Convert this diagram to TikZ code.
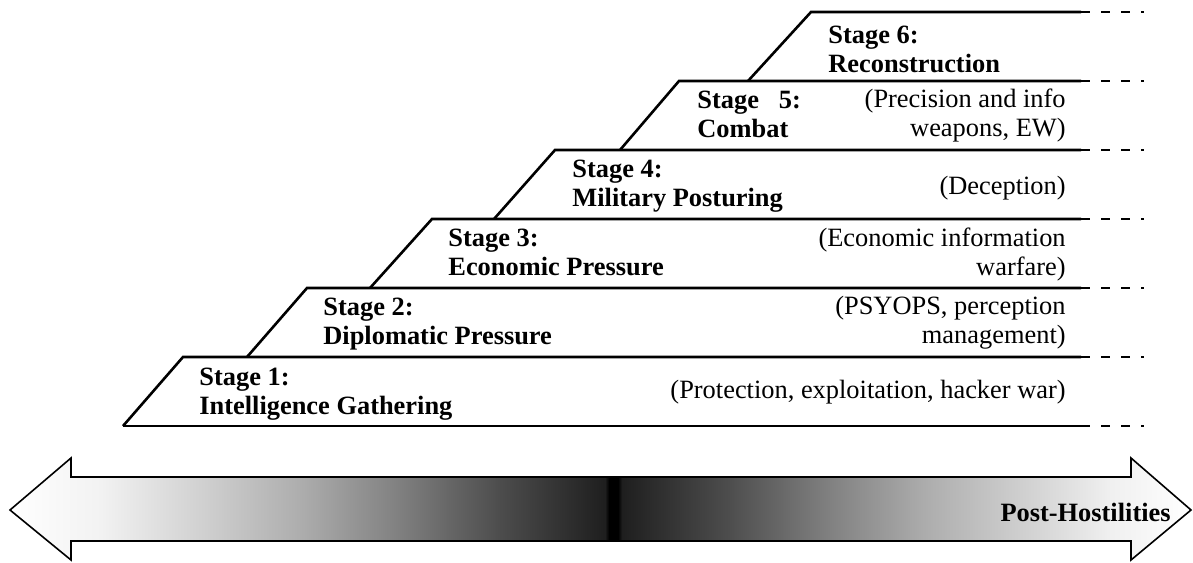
\documentclass[tikz,border=0pt]{standalone}
\usepackage{fontspec}
\setmainfont{Liberation Serif}
\usetikzlibrary{positioning}

% white -- black -- white along the timeline (25bp = left tip, 75bp = right tip)
\pgfdeclarehorizontalshading{timeline}{100bp}{color(0bp)=(white); color(25bp)=(white);
  color(28.81bp)=(black!5); color(33.04bp)=(black!18); color(37.28bp)=(black!32);
  color(41.51bp)=(black!50); color(45.74bp)=(black!70); color(50.19bp)=(black!88);
  color(50.36bp)=(black); color(50.74bp)=(black); color(50.91bp)=(black!88);
  color(55.36bp)=(black!70); color(59.59bp)=(black!50); color(63.82bp)=(black!32);
  color(68.06bp)=(black!18); color(71.57bp)=(black!6); color(75bp)=(white);
  color(100bp)=(white)}

\begin{document}
\begin{tikzpicture}[x=0.5pt,y=-0.5pt,
  stair/.style={line width=1.3pt},
  tail/.style={line width=1.3pt,dash pattern=on 4.5pt off 5.5pt},
  stagelbl/.style={anchor=north west,align=left,inner sep=0pt,font=\fontsize{13.2}{14.5}\selectfont\bfseries},
  means/.style={anchor=east,align=right,inner sep=0pt,font=\fontsize{13.2}{14.5}\selectfont}]

  \useasboundingbox (0,0) rectangle (1193,562);

  % corners of the stairs
  \coordinate (a1) at (123,426);  \coordinate (c1) at (183,357);
  \coordinate (a2) at (247,357);  \coordinate (c2) at (307,288);
  \coordinate (a3) at (370,288);  \coordinate (c3) at (432,219);
  \coordinate (a4) at (494,219);  \coordinate (c4) at (555,150);
  \coordinate (a5) at (620,150);  \coordinate (c5) at (679,81);
  \coordinate (a6) at (748,81);   \coordinate (c6) at (811,12);

  \coordinate (e0) at (1081,426);
  \coordinate (e1) at (1081,357);
  \coordinate (e2) at (1081,288);
  \coordinate (e3) at (1081,219);
  \coordinate (e4) at (1081,150);
  \coordinate (e5) at (1081,81);
  \coordinate (e6) at (1081,12);

  \draw[stair] (a1) -- (e0);
  \draw[stair] (a1) -- (c1) -- (e1);
  \draw[stair] (a2) -- (c2) -- (e2);
  \draw[stair] (a3) -- (c3) -- (e3);
  \draw[stair] (a4) -- (c4) -- (e4);
  \draw[stair] (a5) -- (c5) -- (e5);
  \draw[stair] (a6) -- (c6) -- (e6);

  \draw[tail] (e0) -- ++(63,0);
  \draw[tail] (e1) -- ++(63,0);
  \draw[tail] (e2) -- ++(63,0);
  \draw[tail] (e3) -- ++(63,0);
  \draw[tail] (e4) -- ++(63,0);
  \draw[tail] (e5) -- ++(63,0);
  \draw[tail] (e6) -- ++(63,0);

  \node[stagelbl, below right=5.5pt and 8pt of c1] (s1) {Stage 1:\\Intelligence Gathering};
  \node[stagelbl, below right=5pt and 8pt of c2]   (s2) {Stage 2:\\Diplomatic Pressure};
  \node[stagelbl, below right=5pt and 8pt of c3]   (s3) {Stage 3:\\Economic Pressure};
  \node[stagelbl, below right=5pt and 8.5pt of c4] (s4) {Stage 4:\\Military Posturing};
  \node[stagelbl, below right=5pt and 9pt of c5]   (s5) {Stage\ \ \ 5:\\Combat};
  \node[stagelbl, below right=7pt and 8.5pt of c6] (s6) {Stage 6:\\Reconstruction};

  \node[means] (m1) at (1066,392) {(Protection, exploitation, hacker war)};
  \node[means] (m2) at (1066,323) {(PSYOPS, perception\\management)};
  \node[means] (m3) at (1066,255) {(Economic information\\warfare)};
  \node[means] (m4) at (1066,188) {(Deception)};
  \node[means] (m5) at (1066,116) {(Precision and info\\weapons, EW)};

  % the timeline arrow
  \path[draw,line width=0.8pt,shading=timeline]
    (10,510) -- (71,458) -- (71,477) -- (1131,477) -- (1131,458) -- (1191,510)
    -- (1131,560) -- (1131,541) -- (71,541) -- (71,560) -- cycle;

  \node[stagelbl, anchor=east] (post) at (1171,512) {Post-Hostilities};
\end{tikzpicture}
\end{document}
